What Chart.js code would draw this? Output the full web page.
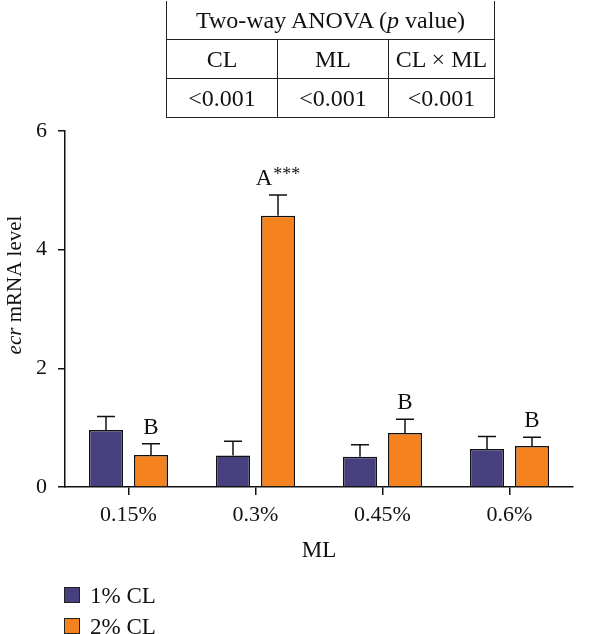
<!DOCTYPE html>
<html>
<head>
<meta charset="utf-8">
<script src="https://cdn.jsdelivr.net/npm/chart.js@4/dist/chart.umd.min.js"></script>
<style>
  html, body { margin: 0; padding: 0; background: #fff; }
  #wrap { position: relative; width: 600px; height: 634px; overflow: hidden; font-family: 'Liberation Serif', serif; color: #111; }
  #chart { position: absolute; left: 0; top: 0; }
  #anova { position: absolute; left: 166px; top: 1px; border-collapse: collapse; font-size: 24px; }
  #anova td { border: 1.5px solid #222; text-align: center; padding: 0; height: 38px; }
  #anova tr:first-child td { border-top: none; }
  .legend { position: absolute; left: 64px; font-size: 23px; line-height: 23px; }
  .legend span.box { position: absolute; left: 0; top: 3px; width: 14px; height: 14px; border: 1.5px solid #222; }
  .legend span.txt { position: absolute; left: 26px; top: 0; white-space: nowrap; }
</style>
</head>
<body>
<div id="wrap">
  <canvas id="chart" width="600" height="634"></canvas>
  <table id="anova">
    <tr><td colspan="3" style="width:327px;">Two-way ANOVA (<i>p</i> value)</td></tr>
    <tr><td style="width:110px;">CL</td><td style="width:110px;">ML</td><td style="width:105px;">CL × ML</td></tr>
    <tr><td>&lt;0.001</td><td>&lt;0.001</td><td>&lt;0.001</td></tr>
  </table>
  <div class="legend" style="top:584px;"><span class="box" style="background:#46407f;"></span><span class="txt">1% CL</span></div>
  <div class="legend" style="top:615px;"><span class="box" style="background:#f4821f;"></span><span class="txt">2% CL</span></div>
</div>
<script>
(function () {
    'use strict';

    const categories = ['0.15%', '0.3%', '0.45%', '0.6%'];
    const cl1Mean    = [0.96, 0.53, 0.51, 0.64];
    const cl1Err     = [0.23, 0.24, 0.20, 0.21];
    const cl2Mean    = [0.54, 4.57, 0.91, 0.69];
    const cl2Err     = [0.19, 0.35, 0.23, 0.15];
    const cl2Letters = ['B', 'A', 'B', 'B'];
    const cl2Stars   = ['', '***', '', ''];
    const yTicks     = [0, 2, 4, 6];

    const FONT   = "'Liberation Serif', serif";
    const INK    = '#111';
    const NAVY   = '#46407f';
    const ORANGE = '#f4821f';

    // error bars (upper whisker only) + significance letters + axis titles
    const annotate = {
        id: 'annotate',
        afterDatasetsDraw(chart) {
            const ctx = chart.ctx;
            const y = chart.scales.y;
            const errs = [cl1Err, cl2Err];
            ctx.save();
            ctx.strokeStyle = INK;
            ctx.lineWidth = 1.5;
            chart.data.datasets.forEach((ds, di) => {
                chart.getDatasetMeta(di).data.forEach((bar, i) => {
                    const top = y.getPixelForValue(ds.data[i] + errs[di][i]);
                    ctx.beginPath();
                    ctx.moveTo(bar.x, bar.y);
                    ctx.lineTo(bar.x, top);
                    ctx.moveTo(bar.x - 9, top);
                    ctx.lineTo(bar.x + 9, top);
                    ctx.stroke();

                    if (di === 1) {
                        const base = top - 10;
                        ctx.fillStyle = INK;
                        ctx.textBaseline = 'alphabetic';
                        ctx.font = `23px ${FONT}`;
                        const wL = ctx.measureText(cl2Letters[i]).width;
                        ctx.font = `18px ${FONT}`;
                        const wS = cl2Stars[i] ? ctx.measureText(cl2Stars[i]).width + 1 : 0;
                        const x0 = bar.x - (wL + wS) / 2;
                        ctx.font = `23px ${FONT}`;
                        ctx.textAlign = 'left';
                        ctx.fillText(cl2Letters[i], x0, base);
                        if (cl2Stars[i]) {
                            ctx.font = `18px ${FONT}`;
                            ctx.fillText(cl2Stars[i], x0 + wL + 1, base - 5);
                        }
                    }
                });
            });

            ctx.fillStyle = INK;
            ctx.textBaseline = 'middle';
            ctx.textAlign = 'center';
            ctx.font = `23px ${FONT}`;
            ctx.fillText('ML', (chart.chartArea.left + chart.chartArea.right) / 2, 551);

            ctx.translate(15, 285);
            ctx.rotate(-Math.PI / 2);
            ctx.font = `italic 21px ${FONT}`;
            const wI = ctx.measureText('ecr').width;
            ctx.font = `21px ${FONT}`;
            const wR = ctx.measureText(' mRNA level').width;
            ctx.textAlign = 'left';
            ctx.font = `italic 21px ${FONT}`;
            ctx.fillText('ecr', -(wI + wR) / 2, 0);
            ctx.font = `21px ${FONT}`;
            ctx.fillText(' mRNA level', -(wI + wR) / 2 + wI, 0);
            ctx.restore();
        }
    };

    new Chart(document.getElementById('chart'), {
        type: 'bar',
        data: {
            labels: categories,
            datasets: [
                { label: '1% CL', data: cl1Mean, backgroundColor: NAVY, borderColor: INK, borderWidth: 1.5 },
                { label: '2% CL', data: cl2Mean, backgroundColor: ORANGE, borderColor: INK, borderWidth: 1.5 },
            ],
        },
        options: {
            responsive: false,
            animation: false,
            events: [],
            categoryPercentage: 0.709,
            barPercentage: 0.756,
            layout: { padding: { top: 131, right: 27, left: 0, bottom: 0 } },
            plugins: {
                legend: { display: false },
                tooltip: { enabled: false },
            },
            scales: {
                x: {
                    grid: { offset: false, drawOnChartArea: false, tickLength: 8, color: INK, lineWidth: 1.5 },
                    border: { color: INK, width: 1.5 },
                    ticks: { color: INK, font: { family: FONT, size: 22 }, padding: 7 },
                    afterFit(s) { s.height = 147; },
                },
                y: {
                    min: 0,
                    max: 6,
                    afterBuildTicks(s) { s.ticks = yTicks.map(v => ({ value: v })); },
                    grid: { drawOnChartArea: false, tickLength: 7, color: INK, lineWidth: 1.5 },
                    border: { color: INK, width: 1.5 },
                    ticks: { color: INK, font: { family: FONT, size: 22 }, padding: 11 },
                    afterFit(s) { s.width = 65; },
                },
            },
        },
        plugins: [annotate],
    });
})();
</script>
</body>
</html>
